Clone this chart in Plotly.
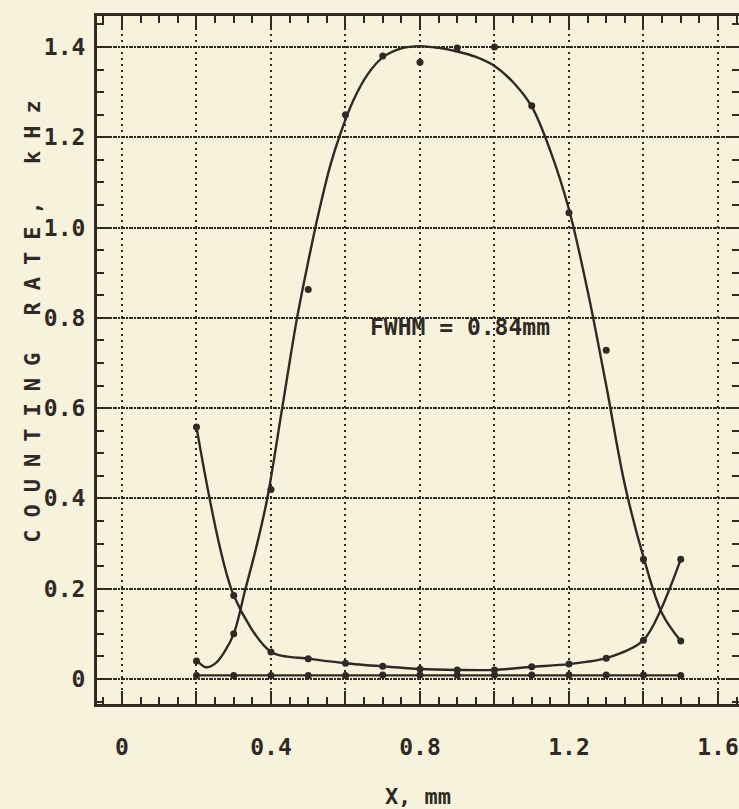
import plotly.graph_objects as go

# ---- data ----
x_pts = [0.2, 0.3, 0.4, 0.5, 0.6, 0.7, 0.8, 0.9, 1.0, 1.1, 1.2, 1.3, 1.4, 1.5]
peak_pts = [0.040, 0.100, 0.420, 0.863, 1.250, 1.380, 1.366, 1.398, 1.400, 1.270, 1.033, 0.728, 0.265, 0.084]
side_pts = [0.558, 0.185, 0.060, 0.045, 0.035, 0.028, 0.022, 0.020, 0.020, 0.027, 0.033, 0.046, 0.086, 0.265]
base_pts = [0.008, 0.008, 0.008, 0.008, 0.008, 0.009, 0.009, 0.009, 0.009, 0.009, 0.009, 0.009, 0.009, 0.008]

# fitted (smooth) curve through the peak data
peak_fit_x = [0.20, 0.225, 0.25, 0.275, 0.30, 0.33, 0.36, 0.39, 0.43, 0.47, 0.50, 0.53, 0.56, 0.585,
              0.62, 0.66, 0.70, 0.75, 0.80, 0.85, 0.90, 0.95, 1.00, 1.05, 1.10, 1.15, 1.20, 1.25,
              1.30, 1.35, 1.40, 1.45, 1.50]
peak_fit_y = [0.042, 0.026, 0.034, 0.060, 0.100, 0.195, 0.290, 0.400, 0.600, 0.800, 0.925, 1.040, 1.140, 1.205,
              1.280, 1.340, 1.377, 1.397, 1.402, 1.398, 1.390, 1.378, 1.358, 1.322, 1.268, 1.170, 1.040, 0.860,
              0.650, 0.430, 0.270, 0.145, 0.084]

x_tickvals = [0, 0.2, 0.4, 0.6, 0.8, 1.0, 1.2, 1.4, 1.6]
x_ticktext = ["0", "", "0.4", "", "0.8", "", "1.2", "", "1.6"]
y_tickvals = [0, 0.2, 0.4, 0.6, 0.8, 1.0, 1.2, 1.4]
y_ticktext = ["0", "0.2", "0.4", "0.6", "0.8", "1.0", "1.2", "1.4"]

annotation_text = "FWHM = 0.84mm"
y_title = "COUNTING RATE, kHz"
x_title = "X, mm"

INK = "#2f2a24"
PAPER = "#f7f2dc"
FONT = "DejaVu Sans Mono"

fig = go.Figure()
fig.add_trace(go.Scatter(x=peak_fit_x, y=peak_fit_y, mode="lines",
                         line=dict(color=INK, width=2.4, shape="spline", smoothing=1.0),
                         showlegend=False, hoverinfo="skip"))
fig.add_trace(go.Scatter(x=x_pts, y=peak_pts, mode="markers",
                         marker=dict(color=INK, size=7), showlegend=False))
fig.add_trace(go.Scatter(x=x_pts, y=side_pts, mode="lines+markers",
                         line=dict(color=INK, width=2.4, shape="spline", smoothing=0.8),
                         marker=dict(color=INK, size=7), showlegend=False))
fig.add_trace(go.Scatter(x=x_pts, y=base_pts, mode="lines+markers",
                         line=dict(color=INK, width=2.4),
                         marker=dict(color=INK, size=7), showlegend=False))

fig.add_annotation(x=0.907, y=0.78, xref="x", yref="y", text=annotation_text, showarrow=False,
                   xanchor="center", yanchor="middle",
                   font=dict(family=FONT, size=23, color=INK, weight="bold"))
fig.add_annotation(x=-0.100, y=0.564, xref="paper", yref="paper", text=y_title, showarrow=False,
                   textangle=-90, xanchor="center", yanchor="middle",
                   font=dict(family=FONT, size=22, color=INK, weight="bold"))

axis_common = dict(
    showline=True, linewidth=3, linecolor=INK, mirror="allticks",
    ticks="inside", ticklen=13, tickwidth=2, tickcolor=INK,
    showgrid=True, gridcolor=INK, zeroline=False, automargin=False,
    tickfont=dict(family=FONT, size=23, color=INK, weight="bold"),
)

fig.update_xaxes(
    range=[-0.0671, 1.6564], tickmode="array", tickvals=x_tickvals, ticktext=x_ticktext,
    gridwidth=2, griddash="2px,4px", ticklabelstandoff=20,
    minor=dict(tickmode="linear", tick0=0, dtick=0.05, ticks="inside", ticklen=7,
               tickwidth=2, tickcolor=INK, showgrid=False),
    title=dict(text=x_title, standoff=38, font=dict(family=FONT, size=22, color=INK, weight="bold")),
    **axis_common,
)
fig.update_yaxes(
    range=[-0.0554, 1.4687], tickmode="array", tickvals=y_tickvals, ticktext=y_ticktext,
    gridwidth=1.5, griddash="4px,1px,2px,1px", ticklabelstandoff=4,
    minor=dict(tickmode="linear", tick0=0, dtick=0.05, ticks="inside", ticklen=7,
               tickwidth=2, tickcolor=INK, showgrid=False),
    **axis_common,
)

fig.update_layout(
    width=739, height=809,
    margin=dict(l=97, r=0, t=16, b=105, autoexpand=False),
    paper_bgcolor=PAPER, plot_bgcolor=PAPER,
    font=dict(family=FONT, color=INK),
)

post = """
document.body.style.margin = '0';
document.body.style.padding = '0';
document.body.style.background = '#f7f2dc';
var gd = document.getElementById('{plot_id}');
function ls(){
  gd.querySelectorAll('.annotation-text').forEach(function(t){
    if (t.textContent.indexOf('COUNTING') >= 0) { t.style.letterSpacing = '12px'; }
  });
}
ls();
if (gd.on) { gd.on('plotly_afterplot', ls); }
setTimeout(ls, 30);
"""

fig.write_html("out.html", post_script=post, config={"displayModeBar": False})
